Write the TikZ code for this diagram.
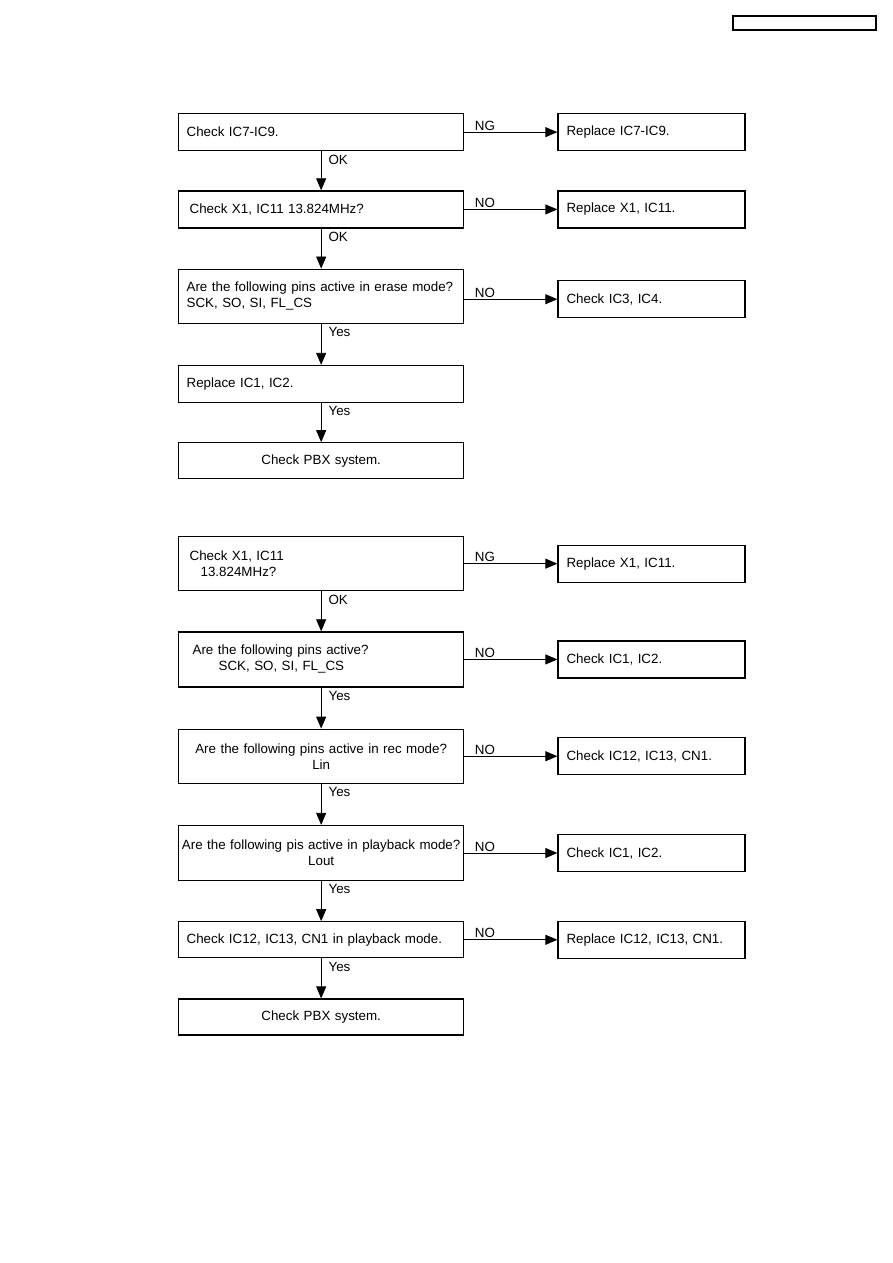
\documentclass[tikz,border=0pt]{standalone}
\usepackage{fontspec}
\setmainfont{Liberation Sans}
\usetikzlibrary{arrows.meta, positioning}

\begin{document}
\begin{tikzpicture}[x=0.025cm, y=-0.025cm, node distance=1cm, >={Triangle[length=3mm, width=2.5mm]}]
  \tikzstyle{proc} = [rectangle, draw, line width=0.9pt, minimum width=7.125cm, minimum height=0.925cm, text width=6.725cm, inner xsep=0.2cm, align=left, font=\fontsize{9.5}{11.4}\selectfont]
  \tikzstyle{tall} = [minimum height=1.35cm]
  \tikzstyle{action} = [rectangle, draw, line width=0.9pt, minimum width=4.675cm, minimum height=0.925cm, text width=4.25cm, inner xsep=0.2cm, align=left, font=\fontsize{9.5}{11.4}\selectfont]
  \tikzstyle{lbl} = [font=\fontsize{9.5}{11.4}\selectfont, inner sep=1pt]
  \tikzstyle{flow} = [->, line width=0.6pt]

  \useasboundingbox (0,0) rectangle (893,1263);
  \draw[line width=0.9pt] (733,16) rectangle (876,30);

  % first flow
  \node [proc, anchor=north west] (chk79) at (178,113) {Check IC7-IC9.};
  \node [proc, below=0.975cm of chk79] (chkx1) {\hspace*{0.075cm}Check X1, IC11 13.824MHz?};
  \node [proc, tall, below=1cm of chkx1] (erase) {Are the following pins active in erase mode?\\SCK, SO, SI, FL\_CS};
  \node [proc, below=1.025cm of erase] (rep12) {Replace IC1, IC2.};
  \node [proc, align=center, minimum height=0.9cm, below=0.975cm of rep12] (pbx1) {Check PBX system.};

  \node [action, right=2.325cm of chk79] (rep79) {Replace IC7-IC9.};
  \node [action, right=2.325cm of chkx1] (repx1) {Replace X1, IC11.};
  \node [action, right=2.325cm of erase, yshift=-0.075cm] (chk34) {Check IC3, IC4.};

  \draw[flow] (chk79) -- node[lbl, pos=0, anchor=north west, xshift=0.14cm, yshift=-0.04cm] {OK} (chkx1);
  \draw[flow] (chkx1) -- node[lbl, pos=0, anchor=north west, xshift=0.14cm, yshift=-0.04cm] {OK} (erase);
  \draw[flow] (erase) -- node[lbl, pos=0, anchor=north west, xshift=0.14cm, yshift=-0.04cm] {Yes} (rep12);
  \draw[flow] (rep12) -- node[lbl, pos=0, anchor=north west, xshift=0.14cm, yshift=-0.04cm] {Yes} (pbx1);

  \draw[flow] (chk79.east |- rep79.west) -- node[lbl, pos=0, anchor=south west, xshift=0.22cm] {NG} (rep79.west);
  \draw[flow] (chkx1.east |- repx1.west) -- node[lbl, pos=0, anchor=south west, xshift=0.22cm] {NO} (repx1.west);
  \draw[flow] (erase.east |- chk34.west) -- node[lbl, pos=0, anchor=south west, xshift=0.22cm] {NO} (chk34.west);

  % second flow
  \node [proc, tall, anchor=north west] (clock) at (178,536) {\hspace*{0.075cm}Check X1, IC11\\\hspace*{0.35cm}13.824MHz?};
  \node [proc, tall, minimum height=1.375cm, below=1cm of clock] (pins) {\hspace*{0.15cm}Are the following pins active?\\\hspace*{0.8cm}SCK, SO, SI, FL\_CS};
  \node [proc, tall, align=center, below=1.025cm of pins] (recmode) {Are the following pins active in rec mode?\\Lin};
  \node [proc, tall, minimum height=1.375cm, align=center, inner xsep=0.05cm, text width=7.025cm, below=1.025cm of recmode] (playmode) {Are the following pis active in playback mode?\\Lout};
  \node [proc, minimum height=0.9cm, below=1cm of playmode] (chkcn1) {Check IC12, IC13, CN1 in playback mode.};
  \node [proc, align=center, minimum height=0.9cm, below=1cm of chkcn1] (pbx2) {Check PBX system.};

  \node [action, right=2.325cm of clock] (repclk) {Replace X1, IC11.};
  \node [action, right=2.325cm of pins] (chk12a) {Check IC1, IC2.};
  \node [action, right=2.325cm of recmode] (chkcn1a) {Check IC12, IC13, CN1.};
  \node [action, right=2.325cm of playmode] (chk12b) {Check IC1, IC2.};
  \node [action, right=2.325cm of chkcn1] (repcn1) {Replace IC12, IC13, CN1.};

  \draw[flow] (clock) -- node[lbl, pos=0, anchor=north west, xshift=0.14cm, yshift=-0.04cm] {OK} (pins);
  \draw[flow] (pins) -- node[lbl, pos=0, anchor=north west, xshift=0.14cm, yshift=-0.04cm] {Yes} (recmode);
  \draw[flow] (recmode) -- node[lbl, pos=0, anchor=north west, xshift=0.14cm, yshift=-0.04cm] {Yes} (playmode);
  \draw[flow] (playmode) -- node[lbl, pos=0, anchor=north west, xshift=0.14cm, yshift=-0.04cm] {Yes} (chkcn1);
  \draw[flow] (chkcn1) -- node[lbl, pos=0, anchor=north west, xshift=0.14cm, yshift=-0.04cm] {Yes} (pbx2);

  \draw[flow] (clock.east |- repclk.west) -- node[lbl, pos=0, anchor=south west, xshift=0.22cm] {NG} (repclk.west);
  \draw[flow] (pins.east |- chk12a.west) -- node[lbl, pos=0, anchor=south west, xshift=0.22cm] {NO} (chk12a.west);
  \draw[flow] (recmode.east |- chkcn1a.west) -- node[lbl, pos=0, anchor=south west, xshift=0.22cm] {NO} (chkcn1a.west);
  \draw[flow] (playmode.east |- chk12b.west) -- node[lbl, pos=0, anchor=south west, xshift=0.22cm] {NO} (chk12b.west);
  \draw[flow] (chkcn1.east |- repcn1.west) -- node[lbl, pos=0, anchor=south west, xshift=0.22cm] {NO} (repcn1.west);
\end{tikzpicture}
\end{document}
